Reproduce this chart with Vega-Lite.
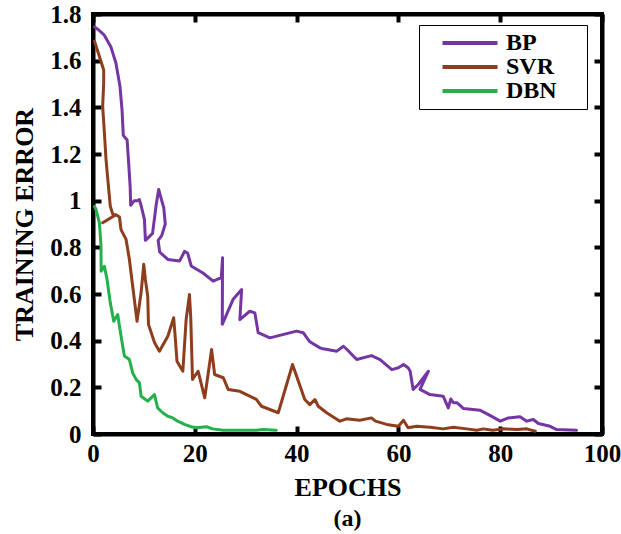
{
  "$schema": "https://vega.github.io/schema/vega-lite/v6.json",
  "autosize": "none",
  "width": 509,
  "height": 420,
  "padding": {"left": 93, "top": 14, "right": 19, "bottom": 100},
  "background": "white",
  "title": {"text": "(a)", "orient": "bottom", "fontSize": 24, "font": "Liberation Serif", "fontWeight": "bold", "color": "black", "offset": 7},
  "config": {
    "font": "Liberation Serif",
    "view": {"stroke": "black", "strokeWidth": 4},
    "axis": {
      "grid": false,
      "domainColor": "black", "domainWidth": 4,
      "tickColor": "black", "tickWidth": 4, "tickSize": -8,
      "labelFont": "Liberation Serif", "labelFontWeight": "bold", "labelFontSize": 25, "labelColor": "black",
      "titleFont": "Liberation Serif", "titleFontWeight": "bold", "titleFontSize": 26, "titleColor": "black"
    }
  },
  "data": {"values": [
    {"m":"BP","e":0.3,"v":1.745,"i":1},{"m":"BP","e":1.2,"v":1.73,"i":2},{"m":"BP","e":2.2,"v":1.71,"i":3},{"m":"BP","e":3.5,"v":1.66,"i":4},{"m":"BP","e":4.5,"v":1.59,"i":5},{"m":"BP","e":5.3,"v":1.49,"i":6},{"m":"BP","e":5.7,"v":1.39,"i":7},{"m":"BP","e":5.95,"v":1.28,"i":8},{"m":"BP","e":6.7,"v":1.26,"i":9},{"m":"BP","e":6.95,"v":1.18,"i":10},{"m":"BP","e":7.3,"v":1.06,"i":11},{"m":"BP","e":7.4,"v":0.98,"i":12},{"m":"BP","e":8.1,"v":1.0,"i":13},{"m":"BP","e":8.8,"v":1.0,"i":14},{"m":"BP","e":9.1,"v":1.005,"i":15},{"m":"BP","e":9.5,"v":0.975,"i":16},{"m":"BP","e":10.1,"v":0.92,"i":17},{"m":"BP","e":10.3,"v":0.83,"i":18},{"m":"BP","e":11.7,"v":0.86,"i":19},{"m":"BP","e":12.4,"v":0.98,"i":20},{"m":"BP","e":12.9,"v":1.048,"i":21},{"m":"BP","e":13.5,"v":1.0,"i":22},{"m":"BP","e":13.9,"v":0.97,"i":23},{"m":"BP","e":14.2,"v":0.9,"i":24},{"m":"BP","e":13.5,"v":0.85,"i":25},{"m":"BP","e":12.8,"v":0.83,"i":26},{"m":"BP","e":13.1,"v":0.78,"i":27},{"m":"BP","e":14.7,"v":0.748,"i":28},{"m":"BP","e":17,"v":0.741,"i":29},{"m":"BP","e":18,"v":0.783,"i":30},{"m":"BP","e":18.6,"v":0.775,"i":31},{"m":"BP","e":19.3,"v":0.72,"i":32},{"m":"BP","e":21.6,"v":0.69,"i":33},{"m":"BP","e":23.6,"v":0.655,"i":34},{"m":"BP","e":25.2,"v":0.67,"i":35},{"m":"BP","e":25.45,"v":0.755,"i":36},{"m":"BP","e":25.4,"v":0.47,"i":37},{"m":"BP","e":27.5,"v":0.576,"i":38},{"m":"BP","e":29.2,"v":0.619,"i":39},{"m":"BP","e":28.85,"v":0.49,"i":40},{"m":"BP","e":30.8,"v":0.526,"i":41},{"m":"BP","e":31.8,"v":0.519,"i":42},{"m":"BP","e":32.45,"v":0.434,"i":43},{"m":"BP","e":34.75,"v":0.412,"i":44},{"m":"BP","e":40,"v":0.441,"i":45},{"m":"BP","e":41.3,"v":0.434,"i":46},{"m":"BP","e":42.6,"v":0.395,"i":47},{"m":"BP","e":44.6,"v":0.369,"i":48},{"m":"BP","e":45.2,"v":0.365,"i":49},{"m":"BP","e":47.9,"v":0.355,"i":50},{"m":"BP","e":49.2,"v":0.376,"i":51},{"m":"BP","e":50,"v":0.36,"i":52},{"m":"BP","e":51.8,"v":0.319,"i":53},{"m":"BP","e":54.7,"v":0.336,"i":54},{"m":"BP","e":56.4,"v":0.319,"i":55},{"m":"BP","e":58.7,"v":0.276,"i":56},{"m":"BP","e":60,"v":0.284,"i":57},{"m":"BP","e":61,"v":0.298,"i":58},{"m":"BP","e":61.9,"v":0.284,"i":59},{"m":"BP","e":62.3,"v":0.27,"i":60},{"m":"BP","e":62.9,"v":0.191,"i":61},{"m":"BP","e":63.9,"v":0.212,"i":62},{"m":"BP","e":65.9,"v":0.269,"i":63},{"m":"BP","e":64.25,"v":0.191,"i":64},{"m":"BP","e":66.2,"v":0.169,"i":65},{"m":"BP","e":68.8,"v":0.162,"i":66},{"m":"BP","e":69.8,"v":0.112,"i":67},{"m":"BP","e":70.3,"v":0.15,"i":68},{"m":"BP","e":70.8,"v":0.134,"i":69},{"m":"BP","e":71.5,"v":0.134,"i":70},{"m":"BP","e":72.8,"v":0.109,"i":71},{"m":"BP","e":76,"v":0.102,"i":72},{"m":"BP","e":77.7,"v":0.083,"i":73},{"m":"BP","e":80,"v":0.055,"i":74},{"m":"BP","e":81.6,"v":0.069,"i":75},{"m":"BP","e":83.9,"v":0.074,"i":76},{"m":"BP","e":85.2,"v":0.055,"i":77},{"m":"BP","e":86.5,"v":0.062,"i":78},{"m":"BP","e":87.5,"v":0.045,"i":79},{"m":"BP","e":89.8,"v":0.033,"i":80},{"m":"BP","e":91.1,"v":0.019,"i":81},{"m":"BP","e":95,"v":0.016,"i":82},
    {"m":"SVR","e":0.3,"v":1.683,"i":101},{"m":"SVR","e":1.45,"v":1.605,"i":102},{"m":"SVR","e":2.1,"v":1.56,"i":103},{"m":"SVR","e":2.1,"v":1.505,"i":104},{"m":"SVR","e":1.9,"v":1.405,"i":105},{"m":"SVR","e":2.24,"v":1.29,"i":106},{"m":"SVR","e":2.56,"v":1.176,"i":107},{"m":"SVR","e":3.03,"v":1.062,"i":108},{"m":"SVR","e":3.4,"v":0.976,"i":109},{"m":"SVR","e":3.9,"v":0.94,"i":110},{"m":"SVR","e":4.5,"v":0.94,"i":111},{"m":"SVR","e":1.9,"v":0.905,"i":112},{"m":"SVR","e":4.5,"v":0.94,"i":113},{"m":"SVR","e":5.2,"v":0.93,"i":114},{"m":"SVR","e":5.5,"v":0.876,"i":115},{"m":"SVR","e":6.5,"v":0.834,"i":116},{"m":"SVR","e":7.15,"v":0.748,"i":117},{"m":"SVR","e":7.8,"v":0.633,"i":118},{"m":"SVR","e":8.65,"v":0.483,"i":119},{"m":"SVR","e":9.45,"v":0.605,"i":120},{"m":"SVR","e":9.97,"v":0.727,"i":121},{"m":"SVR","e":10.3,"v":0.66,"i":122},{"m":"SVR","e":10.75,"v":0.591,"i":123},{"m":"SVR","e":10.9,"v":0.469,"i":124},{"m":"SVR","e":12.1,"v":0.391,"i":125},{"m":"SVR","e":13.05,"v":0.355,"i":126},{"m":"SVR","e":14.7,"v":0.419,"i":127},{"m":"SVR","e":15.85,"v":0.498,"i":128},{"m":"SVR","e":16.1,"v":0.43,"i":129},{"m":"SVR","e":16.5,"v":0.312,"i":130},{"m":"SVR","e":17.65,"v":0.269,"i":131},{"m":"SVR","e":18.3,"v":0.491,"i":132},{"m":"SVR","e":18.95,"v":0.598,"i":133},{"m":"SVR","e":19.2,"v":0.5,"i":134},{"m":"SVR","e":19.55,"v":0.234,"i":135},{"m":"SVR","e":20.65,"v":0.269,"i":136},{"m":"SVR","e":21.95,"v":0.155,"i":137},{"m":"SVR","e":23.3,"v":0.362,"i":138},{"m":"SVR","e":23.9,"v":0.255,"i":139},{"m":"SVR","e":25.6,"v":0.241,"i":140},{"m":"SVR","e":26.55,"v":0.191,"i":141},{"m":"SVR","e":28.85,"v":0.183,"i":142},{"m":"SVR","e":32.1,"v":0.148,"i":143},{"m":"SVR","e":33.1,"v":0.119,"i":144},{"m":"SVR","e":36.4,"v":0.091,"i":145},{"m":"SVR","e":39.2,"v":0.298,"i":146},{"m":"SVR","e":41.6,"v":0.148,"i":147},{"m":"SVR","e":42.6,"v":0.126,"i":148},{"m":"SVR","e":43.6,"v":0.148,"i":149},{"m":"SVR","e":44.25,"v":0.119,"i":150},{"m":"SVR","e":45.9,"v":0.091,"i":151},{"m":"SVR","e":48.5,"v":0.055,"i":152},{"m":"SVR","e":49.8,"v":0.065,"i":153},{"m":"SVR","e":52.4,"v":0.059,"i":154},{"m":"SVR","e":54.7,"v":0.069,"i":155},{"m":"SVR","e":55.5,"v":0.055,"i":156},{"m":"SVR","e":57.7,"v":0.041,"i":157},{"m":"SVR","e":60,"v":0.033,"i":158},{"m":"SVR","e":61,"v":0.059,"i":159},{"m":"SVR","e":61.9,"v":0.027,"i":160},{"m":"SVR","e":63.6,"v":0.033,"i":161},{"m":"SVR","e":66.2,"v":0.029,"i":162},{"m":"SVR","e":68.8,"v":0.022,"i":163},{"m":"SVR","e":70.8,"v":0.029,"i":164},{"m":"SVR","e":73.4,"v":0.022,"i":165},{"m":"SVR","e":75.4,"v":0.016,"i":166},{"m":"SVR","e":76.7,"v":0.022,"i":167},{"m":"SVR","e":78.5,"v":0.016,"i":168},{"m":"SVR","e":80.6,"v":0.022,"i":169},{"m":"SVR","e":83.3,"v":0.019,"i":170},{"m":"SVR","e":85.2,"v":0.022,"i":171},{"m":"SVR","e":86.9,"v":0.012,"i":172},
    {"m":"DBN","e":0.3,"v":0.975,"i":201},{"m":"DBN","e":0.6,"v":0.962,"i":202},{"m":"DBN","e":1.26,"v":0.905,"i":203},{"m":"DBN","e":1.57,"v":0.805,"i":204},{"m":"DBN","e":1.6,"v":0.698,"i":205},{"m":"DBN","e":2.24,"v":0.719,"i":206},{"m":"DBN","e":2.76,"v":0.662,"i":207},{"m":"DBN","e":3.4,"v":0.562,"i":208},{"m":"DBN","e":4.07,"v":0.483,"i":209},{"m":"DBN","e":4.86,"v":0.512,"i":210},{"m":"DBN","e":5.2,"v":0.462,"i":211},{"m":"DBN","e":5.84,"v":0.376,"i":212},{"m":"DBN","e":6.17,"v":0.334,"i":213},{"m":"DBN","e":7.15,"v":0.319,"i":214},{"m":"DBN","e":7.8,"v":0.262,"i":215},{"m":"DBN","e":8.46,"v":0.234,"i":216},{"m":"DBN","e":9.12,"v":0.219,"i":217},{"m":"DBN","e":9.45,"v":0.162,"i":218},{"m":"DBN","e":10.75,"v":0.141,"i":219},{"m":"DBN","e":12.07,"v":0.169,"i":220},{"m":"DBN","e":12.7,"v":0.112,"i":221},{"m":"DBN","e":13.7,"v":0.091,"i":222},{"m":"DBN","e":14.7,"v":0.076,"i":223},{"m":"DBN","e":15.67,"v":0.069,"i":224},{"m":"DBN","e":16.65,"v":0.055,"i":225},{"m":"DBN","e":17.97,"v":0.041,"i":226},{"m":"DBN","e":19.3,"v":0.031,"i":227},{"m":"DBN","e":20.3,"v":0.027,"i":228},{"m":"DBN","e":22.3,"v":0.031,"i":229},{"m":"DBN","e":23.5,"v":0.022,"i":230},{"m":"DBN","e":25.6,"v":0.016,"i":231},{"m":"DBN","e":30,"v":0.016,"i":232},{"m":"DBN","e":32.1,"v":0.016,"i":233},{"m":"DBN","e":33.4,"v":0.019,"i":234},{"m":"DBN","e":36,"v":0.016,"i":235}
  ]},
  "layer": [
    {
      "mark": {"type": "line", "strokeWidth": 3, "strokeJoin": "round", "strokeCap": "round", "clip": true},
      "encoding": {
        "x": {"field": "e", "type": "quantitative", "scale": {"domain": [0, 100], "nice": false},
              "axis": {"values": [0, 20, 40, 60, 80, 100], "title": "EPOCHS", "labelPadding": 15, "titlePadding": 8, "labelFlush": false}},
        "y": {"field": "v", "type": "quantitative", "scale": {"domain": [0, 1.8], "nice": false},
              "axis": {"values": [0, 0.2, 0.4, 0.6, 0.8, 1, 1.2, 1.4, 1.6, 1.8], "format": "~g", "title": "TRAINING ERROR", "labelPadding": 20, "titlePadding": 12, "labelFlush": false}},
        "color": {"field": "m", "type": "nominal",
          "scale": {"domain": ["BP", "SVR", "DBN"], "range": ["#7436A2", "#8E3E1C", "#24B04A"]},
          "legend": {"title": ".", "titleOrient": "right", "titleColor": "white", "titlePadding": 22, "titleFontSize": 6,
            "orient": "none", "legendX": 326, "legendY": 11,
            "strokeColor": "black", "padding": 6,
            "symbolType": "M-5,0H5", "symbolSize": 121, "symbolStrokeWidth": 4, "symbolOffset": 33,
            "labelOffset": 24, "labelFont": "Liberation Serif", "labelFontWeight": "bold", "labelFontSize": 24, "labelColor": "black",
            "rowPadding": 0}},
        "order": {"field": "i", "type": "quantitative"}
      }
    },
    {
      "mark": {"type": "line", "opacity": 0},
      "encoding": {
        "x": {"field": "e", "type": "quantitative", "axis": {"orient": "top", "values": [0, 20, 40, 60, 80, 100], "labels": false, "title": null}},
        "y": {"field": "v", "type": "quantitative", "axis": {"orient": "right", "values": [0, 0.2, 0.4, 0.6, 0.8, 1, 1.2, 1.4, 1.6, 1.8], "labels": false, "title": null}},
        "detail": {"field": "m"}
      }
    }
  ],
  "resolve": {"axis": {"x": "independent", "y": "independent"}}
}
